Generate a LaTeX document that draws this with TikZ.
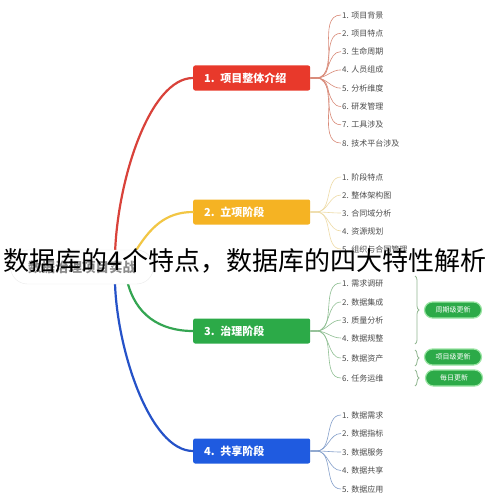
\documentclass[tikz,border=0pt]{standalone}
\usepackage{fontspec}
\setmainfont{Noto Sans CJK SC}
\usetikzlibrary{decorations.pathreplacing}
\definecolor{redbox}{HTML}{E8392B}
\definecolor{yellowbox}{HTML}{F5B323}
\definecolor{greenbox}{HTML}{2CAA48}
\definecolor{bluebox}{HTML}{1F5BE0}
\definecolor{redlimb}{HTML}{D9423A}
\definecolor{yellowlimb}{HTML}{F2C644}
\definecolor{greenlimb}{HTML}{34A552}
\definecolor{bluelimb}{HTML}{2552C8}
\definecolor{redtwig}{HTML}{D98A78}
\definecolor{yellowtwig}{HTML}{EEDBA6}
\definecolor{greentwig}{HTML}{8FBF93}
\definecolor{bluetwig}{HTML}{849FCB}
\definecolor{bracecol}{HTML}{93B893}
\tikzset{
  stage/.style = {anchor = west, rounded corners = 2pt, minimum height = 25pt, text width = 95pt, inner xsep = 11pt, align = left, text = white, font = \fontsize{11}{11}\selectfont\bfseries},
  leaf/.style = {anchor = west, inner sep = 1pt, text = black!70, font = \fontsize{8}{8}\selectfont},
  twig/.style = {line width = 0.6pt},
  limb/.style = {line width = 2.2pt, line cap = round},
  tag/.style = {fill = greenbox, draw = green!30!greenbox!45, line width = 1.2pt, rounded corners = 8pt, minimum width = 57pt, minimum height = 16pt, inner sep = 0pt, text = white, font = \fontsize{7}{7}\selectfont},
  curly/.style = {draw = bracecol, line width = 0.8pt, decorate, decoration = {brace, amplitude = 4pt}}
}
\begin{document}
\begin{tikzpicture}[x = 1pt, y = -1pt]
\useasboundingbox[fill = white] (0,0) rectangle (490,503);
\node[stage, fill = redbox] (s1) at (193,78) {1. 项目整体介绍};
\node[stage, fill = yellowbox] (s2) at (193,212) {2. 立项阶段};
\node[stage, fill = greenbox] (s3) at (193,331) {3. 治理阶段};
\node[stage, fill = bluebox] (s4) at (193,451) {4. 共享阶段};
\coordinate (rootR) at (115,255);
\coordinate (rootY) at (135,252);
\coordinate (rootG) at (127,280);
\coordinate (rootB) at (115,283);
\draw[limb, redlimb] (rootR) .. controls (117,180) and (150,78) .. (s1.west);
\draw[limb, yellowlimb] (rootY) .. controls (150,228) and (165,212) .. (s2.west);
\draw[limb, greenlimb] (rootG) .. controls (135,315) and (160,331) .. (s3.west);
\draw[limb, bluelimb] (rootB) .. controls (117,350) and (150,451) .. (s4.west);
\node[fill = white, draw = black!8, rounded corners = 17pt, minimum width = 143pt, minimum height = 34pt, text = black!45, font = \fontsize{13.5}{13.5}\selectfont\bfseries] (root) at (82,267) {数据治理项目实战};
\foreach \t [count = \i] in {项目背景, 项目特点, 生命周期, 人员组成, 分析维度, 研发管理, 工具涉及, 技术平台涉及}
{
  \node[leaf] (a\i) at (341,{15+18.3*(\i-1)}) {\i. \t};
  \draw[twig, redtwig] (s1.east) -- ++(6,0) to[out = 0, in = 180] (a\i.west);
}
\foreach \t [count = \i] in {阶段特点, 整体架构图, 合同域分析, 资源规划, 组织与合同管理}
{
  \node[leaf] (b\i) at (341,{177+18*(\i-1)}) {\i. \t};
  \draw[twig, yellowtwig] (s2.east) -- ++(6,0) to[out = 0, in = 180] (b\i.west);
}
\foreach \y/\t [count = \i] in {283/需求调研, 302/数据集成, 320/质量分析, 338/数据规整, 358/数据资产, 378/任务运维}
{
  \node[leaf] (c\i) at (341,\y) {\i. \t};
  \draw[twig, greentwig] (s3.east) -- ++(6,0) to[out = 0, in = 180] (c\i.west);
}
\foreach \t [count = \i] in {数据需求, 数据指标, 数据服务, 数据共享, 数据应用}
{
  \node[leaf] (d\i) at (341,{415+18.5*(\i-1)}) {\i. \t};
  \draw[twig, bluetwig] (s4.east) -- ++(6,0) to[out = 0, in = 180] (d\i.west);
}
\node[tag] (t1) at (453,310) {周期级更新};
\node[tag] (t2) at (453,357) {项目级更新};
\node[tag] (t3) at (454,378) {每日更新};
\draw[curly] (415,276) -- (415,344);
\draw[curly] (415,350) -- (415,366);
\draw[curly] (415,370) -- (415,386);
\node[inner sep = 0pt, font = \fontsize{26}{26}\selectfont] (title) at (245,261) {数据库的4个特点，数据库的四大特性解析};
\end{tikzpicture}
\end{document}
